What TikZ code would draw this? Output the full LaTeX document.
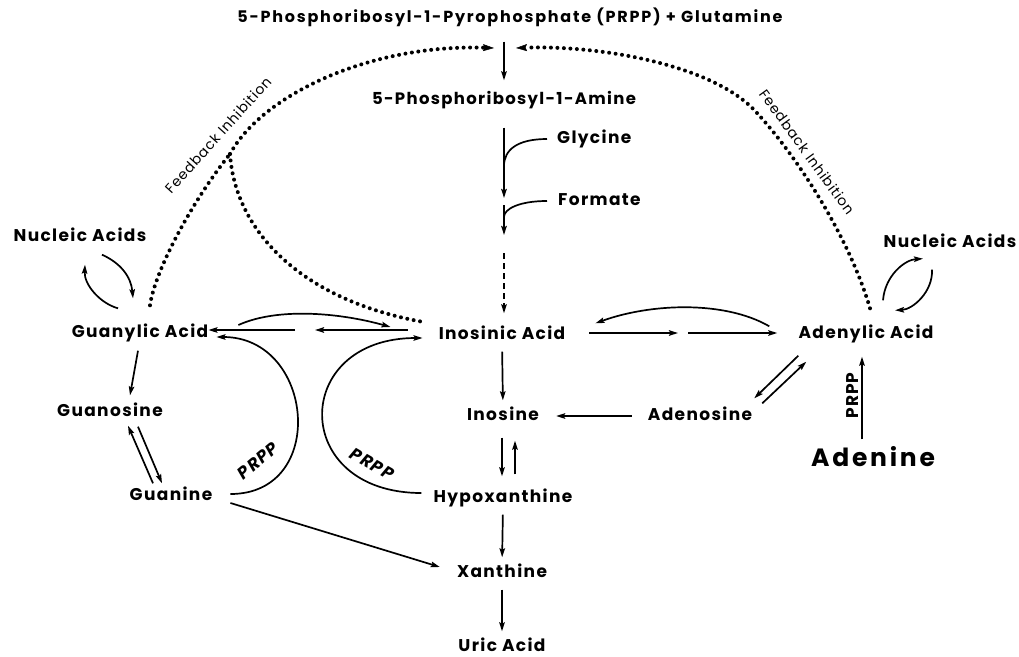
\documentclass[tikz,border=0pt]{standalone}
\usepackage{fontspec}
\setmainfont{Poppins}[LetterSpace=8]
\usetikzlibrary{arrows.meta}

\begin{document}
\begin{tikzpicture}[
    x=1pt,y=-1pt,
    font=\bfseries\fontsize{17}{19}\selectfont,
    compound/.style={inner sep=0pt,text height=12pt,text depth=3pt},
    flow/.style={line width=1.7pt,-{Stealth[length=9pt,width=5.5pt,inset=1.5pt]}},
    vflow/.style={flow,shorten <=9pt,shorten >=8pt},
    branch/.style={line width=1.7pt},
    feedback/.style={line width=4pt,line cap=round,dash pattern=on 0pt off 6.5pt},
    fb tip/.style={-{Stealth[length=11pt,width=7pt,inset=1.5pt,line width=.5pt]}},
    note/.style={font=\fontsize{14}{16}\selectfont\addfontfeature{LetterSpace=6},inner sep=1pt},
    enzyme/.style={font=\bfseries\itshape\fontsize{17}{19}\selectfont,inner sep=1pt}
]
    \useasboundingbox (0,0) rectangle (1019,656);

    % De novo route down the middle.
    \node[compound,font=\bfseries\fontsize{16}{18}\selectfont\addfontfeature{LetterSpace=11}] (prpp)
        at (510,18) {5-Phosphoribosyl-1-Pyrophosphate (PRPP) + Glutamine};
    \node[compound,font=\bfseries\fontsize{16.5}{18}\selectfont] (amine) at (504,100)
        {5-Phosphoribosyl-1-Amine};
    \node[compound,anchor=west] (glycine) at (557,139) {Glycine};
    \node[compound,anchor=west] (formate) at (558,201) {Formate};
    \node[compound] (inosinic) at (502,335) {Inosinic Acid};
    \node[compound] (inosine) at (503,416) {Inosine};
    \node[compound] (hypox) at (503,498) {Hypoxanthine};
    \node[compound] (xanthine) at (502,573) {Xanthine};
    \node[compound] (uric) at (502,647) {Uric Acid};

    % Adenine side.
    \node[compound] (adenylic) at (866,334) {Adenylic Acid};
    \node[compound] (adenosine) at (700,416) {Adenosine};
    \node[compound,font=\bfseries\fontsize{25}{27}\selectfont\addfontfeature{LetterSpace=11},
        text height=17pt,text depth=4pt] (adenine) at (873,460) {Adenine};
    \node[compound] (nucleicR) at (950,243) {Nucleic Acids};

    % Guanine side.
    \node[compound] (guanylic) at (140,333) {Guanylic Acid};
    \node[compound] (guanosine) at (110,412) {Guanosine};
    \node[compound] (guanine) at (171,496) {Guanine};
    \node[compound] (nucleicL) at (80,237) {Nucleic Acids};

    % PRPP + glutamine to the amine, then the glycine and formate steps.
    \coordinate (stemA) at (504,198);
    \coordinate (stemB) at (504,205);
    \coordinate (stemC) at (504,235);
    \coordinate (stemD) at (504,253);
    \coordinate (glyJoin) at (504,166);
    \coordinate (formJoin) at (504,217);
    \draw[flow,shorten <=16pt,shorten >=12pt] (prpp.south -| amine.north) -- (amine.north);
    \draw[flow,shorten <=20pt] (amine.south) -- (stemA);
    \draw[flow] (stemB) -- (stemC);
    \draw[flow,dash pattern=on 6pt off 4pt,shorten >=14pt] (stemD) -- (stemD |- inosinic.north);
    \draw[branch] ([xshift=-10pt]glycine.west) .. controls +(-30,0) and +(0,-16) .. (glyJoin);
    \draw[branch] ([xshift=-11pt]formate.west) .. controls +(-28,0) and +(0,-8) .. (formJoin);

    % Breakdown down the middle.
    \foreach \from/\to in {inosinic/inosine,hypox/xanthine,xanthine/uric}
        \draw[vflow] (\from.south) -- (\to.north);
    \draw[flow,shorten <=14pt,shorten >=14pt] ([xshift=-1pt]inosine.south) -- ([xshift=-1pt]hypox.north);
    \draw[flow,shorten <=16pt,shorten >=17pt] ([xshift=12pt]hypox.north) -- ([xshift=12pt]inosine.south);

    % Inosinic acid to adenylic acid and back.
    \coordinate (splitA) at (678,333);
    \coordinate (splitB) at (688,333);
    \draw[flow,shorten <=24pt] (inosinic.east |- splitA) -- (splitA);
    \draw[flow,shorten >=21pt] (splitB) -- (splitB -| adenylic.west);
    \draw[flow] ([xshift=-29pt]adenylic.north west) .. controls +(-45,-26) and +(55,-20)
        .. ([xshift=30pt,yshift=4pt]inosinic.north east);
    \draw[flow] ([yshift=-14pt]adenylic.south west) -- ([xshift=2pt,yshift=10pt]adenosine.north east);
    \draw[flow] ([xshift=10pt,yshift=5pt]adenosine.north east) -- ([xshift=8pt,yshift=-20pt]adenylic.south west);
    \draw[flow,shorten <=16pt,shorten >=17pt] (adenosine.west) -- (inosine.east);
    \draw[flow,shorten <=10pt,shorten >=15pt] ([xshift=-11pt]adenine.north)
        -- node[sloped,above=2pt,inner sep=1pt,
            font=\bfseries\fontsize{17}{19}\selectfont\addfontfeature{LetterSpace=6}] {PRPP}
        ([xshift=-4pt]adenylic.south);
    \draw[flow] ([xshift=17pt,yshift=26pt]adenylic.north) .. controls +(2,-25) and +(-18,1)
        .. ([xshift=-27pt,yshift=-8pt]nucleicR.south);
    \draw[flow] ([xshift=-18pt,yshift=-19pt]nucleicR.south) .. controls +(1,22) and +(18,-1)
        .. ([xshift=29pt,yshift=16pt]adenylic.north);

    % Guanylic acid, guanosine and guanine.
    \draw[flow] ([xshift=22pt,yshift=-10pt]nucleicL.south) .. controls +(18,8) and +(-2,-22)
        .. ([xshift=-7pt,yshift=27pt]guanylic.north);
    \draw[flow] ([xshift=-22pt,yshift=17pt]guanylic.north) .. controls +(-18,-5) and +(-1,20)
        .. ([xshift=5pt,yshift=-20pt]nucleicL.south);
    \draw[flow] ([xshift=-2pt,yshift=-10pt]guanylic.south) -- ([xshift=20pt,yshift=9pt]guanosine.north);
    \draw[flow] ([xshift=-18pt,yshift=5pt]guanine.north) -- ([xshift=18pt,yshift=-6pt]guanosine.south);
    \draw[flow] ([xshift=28pt,yshift=-7pt]guanosine.south) -- ([xshift=-9pt,yshift=5pt]guanine.north);
    \draw[flow] ([xshift=18pt,yshift=-7pt]guanine.east) -- ([xshift=-17pt,yshift=6pt]xanthine.west);

    % Inosinic acid to guanylic acid, and the two PRPP salvage arcs.
    \coordinate (splitC) at (315,330);
    \coordinate (splitD) at (295,330);
    \draw[flow] ([xshift=-31pt,yshift=5pt]inosinic.west) -- (splitC);
    \draw[flow] (splitD) -- (splitD -| guanylic.east);
    \draw[flow] ([xshift=30pt,yshift=8pt]guanylic.east) .. controls +(40,-18) and +(-50,-14)
        .. ([xshift=-48pt,yshift=8pt]inosinic.west);
    \draw[flow] ([xshift=18pt,yshift=2pt]guanine.east) .. controls +(98,0) and +(98,0)
        .. ([xshift=8pt,yshift=-4pt]guanylic.east);
    \draw[flow] ([xshift=-12pt,yshift=5pt]hypox.west) .. controls +(-132,0) and +(-132,0)
        .. ([xshift=-16pt,yshift=-3pt]inosinic.west);
    \node[enzyme,rotate=40] (prppG) at (258,461) {PRPP};
    \node[enzyme,rotate=-30] (prppH) at (372,464) {PRPP};

    % Feedback inhibition, dotted.
    \coordinate (fbFork) at (230,154);
    \coordinate (fbLeftEnd) at (494,48);
    \coordinate (fbRightMid) at (757,113);
    \coordinate (fbRightEnd) at (516,48);
    \draw[feedback] ([xshift=10pt,yshift=20pt]guanylic.north) .. controls (155,270) and (193,200) .. (fbFork);
    \draw[feedback,fb tip] (fbFork) .. controls (262,95) and (370,44) .. (fbLeftEnd);
    \draw[feedback] (fbFork) .. controls (235,230) and (300,300) .. ([xshift=-15pt,yshift=13pt]inosinic.west);
    \draw[feedback] ([xshift=4pt,yshift=18pt]adenylic.north) .. controls (850,240) and (800,160) .. (fbRightMid);
    \draw[feedback,fb tip] (fbRightMid) .. controls (715,65) and (600,45) .. (fbRightEnd);
    \node[note,rotate=48] (fbLeftLabel) at (218,135) {Feedback Inhibition};
    \node[note,rotate=-54] (fbRightLabel) at (807,152) {Feedback Inhibition};
\end{tikzpicture}
\end{document}
